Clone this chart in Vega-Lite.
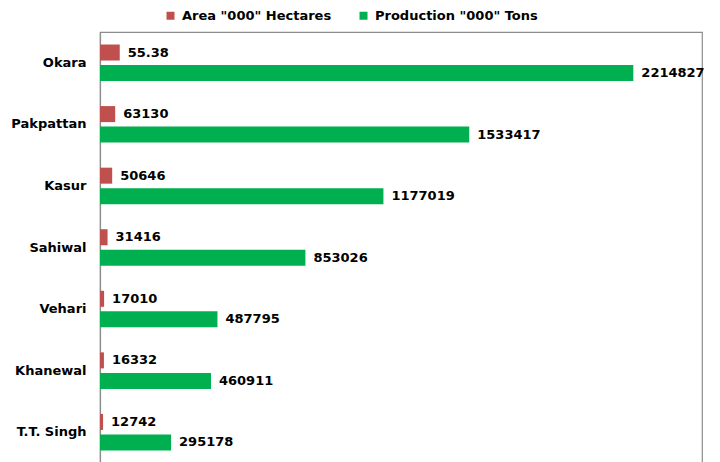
{
  "$schema": "https://vega.github.io/schema/vega-lite/v6.json",
  "autosize": "none",
  "width": 602,
  "height": 431,
  "padding": {"left": 100, "top": 32, "right": 18, "bottom": 0},
  "background": "white",
  "config": {
    "view": {"stroke": "#8c8c8c", "strokeWidth": 1.2},
    "font": "DejaVu Sans"
  },
  "data": {
    "values": [
      {"district": "Okara", "series": "Area \"000\" Hectares", "value": 82000, "label": "55.38"},
      {"district": "Okara", "series": "Production \"000\" Tons", "value": 2214827, "label": "2214827"},
      {"district": "Pakpattan", "series": "Area \"000\" Hectares", "value": 63130, "label": "63130"},
      {"district": "Pakpattan", "series": "Production \"000\" Tons", "value": 1533417, "label": "1533417"},
      {"district": "Kasur", "series": "Area \"000\" Hectares", "value": 50646, "label": "50646"},
      {"district": "Kasur", "series": "Production \"000\" Tons", "value": 1177019, "label": "1177019"},
      {"district": "Sahiwal", "series": "Area \"000\" Hectares", "value": 31416, "label": "31416"},
      {"district": "Sahiwal", "series": "Production \"000\" Tons", "value": 853026, "label": "853026"},
      {"district": "Vehari", "series": "Area \"000\" Hectares", "value": 17010, "label": "17010"},
      {"district": "Vehari", "series": "Production \"000\" Tons", "value": 487795, "label": "487795"},
      {"district": "Khanewal", "series": "Area \"000\" Hectares", "value": 16332, "label": "16332"},
      {"district": "Khanewal", "series": "Production \"000\" Tons", "value": 460911, "label": "460911"},
      {"district": "T.T. Singh", "series": "Area \"000\" Hectares", "value": 12742, "label": "12742"},
      {"district": "T.T. Singh", "series": "Production \"000\" Tons", "value": 295178, "label": "295178"}
    ]
  },
  "encoding": {
    "y": {
      "field": "district",
      "type": "nominal",
      "sort": ["Okara", "Pakpattan", "Kasur", "Sahiwal", "Vehari", "Khanewal", "T.T. Singh"],
      "scale": {"paddingInner": 0, "paddingOuter": 0},
      "axis": {
        "title": null,
        "ticks": false,
        "domain": true,
        "domainColor": "#8c8c8c",
        "domainWidth": 1.2,
        "labelFont": "DejaVu Sans",
        "labelFontWeight": "bold",
        "labelFontSize": 13,
        "labelColor": "#000000",
        "labelPadding": 14
      }
    },
    "yOffset": {
      "field": "series",
      "type": "nominal",
      "sort": ["Area \"000\" Hectares", "Production \"000\" Tons"],
      "scale": {"paddingInner": 0.22, "paddingOuter": 0.61}
    },
    "x": {
      "field": "value",
      "type": "quantitative",
      "scale": {"domain": [0, 2500000], "nice": false},
      "axis": null
    }
  },
  "layer": [
    {
      "mark": {"type": "bar"},
      "encoding": {
        "color": {
          "field": "series",
          "type": "nominal",
          "scale": {
            "domain": ["Area \"000\" Hectares", "Production \"000\" Tons"],
            "range": ["#C0504D", "#00B050"]
          },
          "legend": {
            "title": null,
            "orient": "none",
            "direction": "horizontal",
            "legendX": 64,
            "legendY": -23,
            "symbolType": "square",
            "symbolSize": 64,
            "symbolStrokeWidth": 0,
            "labelFont": "DejaVu Sans",
            "labelFontWeight": "bold",
            "labelFontSize": 13,
            "labelColor": "#000000",
            "labelLimit": 400,
            "columnPadding": 25,
            "labelOffset": 5
          }
        }
      }
    },
    {
      "mark": {
        "type": "text",
        "align": "left",
        "baseline": "middle",
        "dx": 8,
        "font": "DejaVu Sans",
        "fontWeight": "bold",
        "fontSize": 13,
        "color": "#000000"
      },
      "encoding": {
        "text": {"field": "label", "type": "nominal"}
      }
    }
  ]
}
